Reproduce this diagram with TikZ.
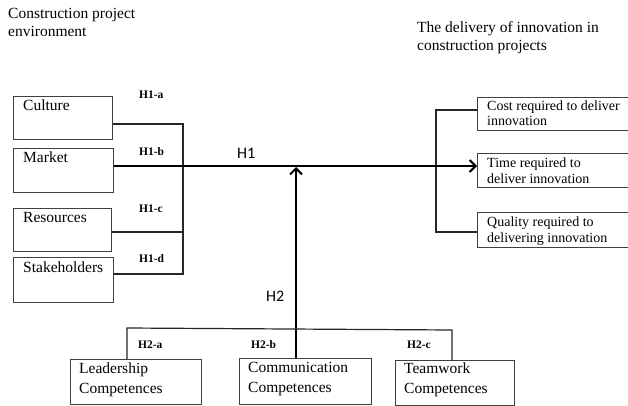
\documentclass[tikz,border=0pt]{standalone}
\usepackage{fontspec}
\setmainfont{Liberation Serif}
\newfontfamily\hfont{Carlito}
\usetikzlibrary{arrows.meta}
\tikzset{
  box/.style={draw=black!75, line width=1.1pt, rectangle, inner sep=0pt, anchor=north west},
  ltxt/.style={inner sep=0pt, anchor=base west, align=left, font=\fontsize{15.5}{19.5}\selectfont},
  rtxt/.style={inner sep=0pt, anchor=base west, align=left, font=\fontsize{14}{15.5}\selectfont},
  ttxt/.style={inner sep=0pt, anchor=base west, align=left, font=\fontsize{15.5}{18}\selectfont},
  hlab/.style={inner sep=0pt, anchor=base west, font=\fontsize{11.5}{13}\selectfont\bfseries},
  hbig/.style={inner sep=0pt, anchor=base west, font=\hfont\fontsize{16}{18}\selectfont},
  conn/.style={draw=black!85, line width=1.2pt},
  mainarr/.style={draw=black, line width=1.5pt, -{Straight Barb[length=6pt,width=12pt,line width=2pt]}}
}
\begin{document}
\begin{tikzpicture}[x=1pt,y=-1pt]
\useasboundingbox (0,0) rectangle (628,406);
% titles (anchor = baseline of last line)
\node[ttxt] (t1) at (8,37) {Construction project\\environment};
\node[ttxt] (t2) at (417,51) {The delivery of innovation in\\construction projects};
% left boxes
\node[box, minimum width=99pt, minimum height=43pt] (culture) at (13,96) {};
\node[box, minimum width=100pt, minimum height=44pt] (market) at (13,148) {};
\node[box, minimum width=98pt, minimum height=43pt] (res) at (13,208) {};
\node[box, minimum width=100pt, minimum height=45pt] (stake) at (13,257) {};
\node[ltxt] (culturet) at ([shift={(10,15)}]culture.north west) {Culture};
\node[ltxt] (markett) at ([shift={(10,15)}]market.north west) {Market};
\node[ltxt] (rest) at ([shift={(10,14)}]res.north west) {Resources};
\node[ltxt] (staket) at ([shift={(10,15)}]stake.north west) {Stakeholders};
% right boxes
\node[box, minimum width=151pt, minimum height=33pt] (cost) at (477,97) {};
\node[box, minimum width=151pt, minimum height=34pt] (time) at (477,153) {};
\node[box, minimum width=151pt, minimum height=35pt] (quality) at (477,212) {};
\node[rtxt] (costt) at ([shift={(10,29)}]cost.north west) {Cost required to deliver\\innovation};
\node[rtxt] (timet) at ([shift={(10,30)}]time.north west) {Time required to\\deliver innovation};
\node[rtxt] (qualityt) at ([shift={(10,30)}]quality.north west) {Quality required to\\delivering innovation};
% bottom boxes
\node[box, minimum width=131pt, minimum height=45pt] (lead) at (70,359) {};
\node[box, minimum width=132pt, minimum height=46pt] (comm) at (239,358) {};
\node[box, minimum width=119pt, minimum height=45pt] (team) at (395,360) {};
\node[ltxt] (leadt) at ([shift={(9,34)}]lead.north west) {Leadership\\Competences};
\node[ltxt] (commt) at ([shift={(9,34)}]comm.north west) {Communication\\Competences};
\node[ltxt] (teamt) at ([shift={(9,33)}]team.north west) {Teamwork\\Competences};
% labels
\node[hlab] (h1a) at (139,99) {H1-a};
\node[hlab] (h1b) at (139,156) {H1-b};
\node[hlab] (h1c) at (139,212) {H1-c};
\node[hlab] (h1d) at (139,262) {H1-d};
\node[hlab] (h2a) at (138,348) {H2-a};
\node[hlab] (h2b) at (251,348) {H2-b};
\node[hlab] (h2c) at (407,348) {H2-c};
\node[hbig] (h1) at (237,159) {H1};
\node[hbig] (h2) at (266,301) {H2};
% junction coordinates
\coordinate (j1) at (183,124);
\coordinate (j3) at (183,232);
\coordinate (j4) at (183,274);
\coordinate (hub) at (296,166);
\coordinate (r1) at (436,110);
\coordinate (r3) at (436,232);
\coordinate (b1) at (127,328);
\coordinate (b2) at (452,330);
% left bracket
\draw[conn] (culture.east |- j1) -- (j1) -- (j4) -- (stake.east |- j4);
\draw[conn] (res.east |- j3) -- (j3);
% right bracket
\draw[conn] (cost.west |- r1) -- (r1) -- (r3) -- (quality.west |- r3);
% main H1 arrow
\draw[mainarr] (market.east |- hub) -- (time.west |- hub);
% H2 arrow
\draw[mainarr] (comm.north -| hub) -- ([yshift=-1pt]hub);
% bottom bracket
\draw[conn] (lead.north -| b1) -- (b1) -- (b2) -- (team.north -| b2);
\end{tikzpicture}
\end{document}
